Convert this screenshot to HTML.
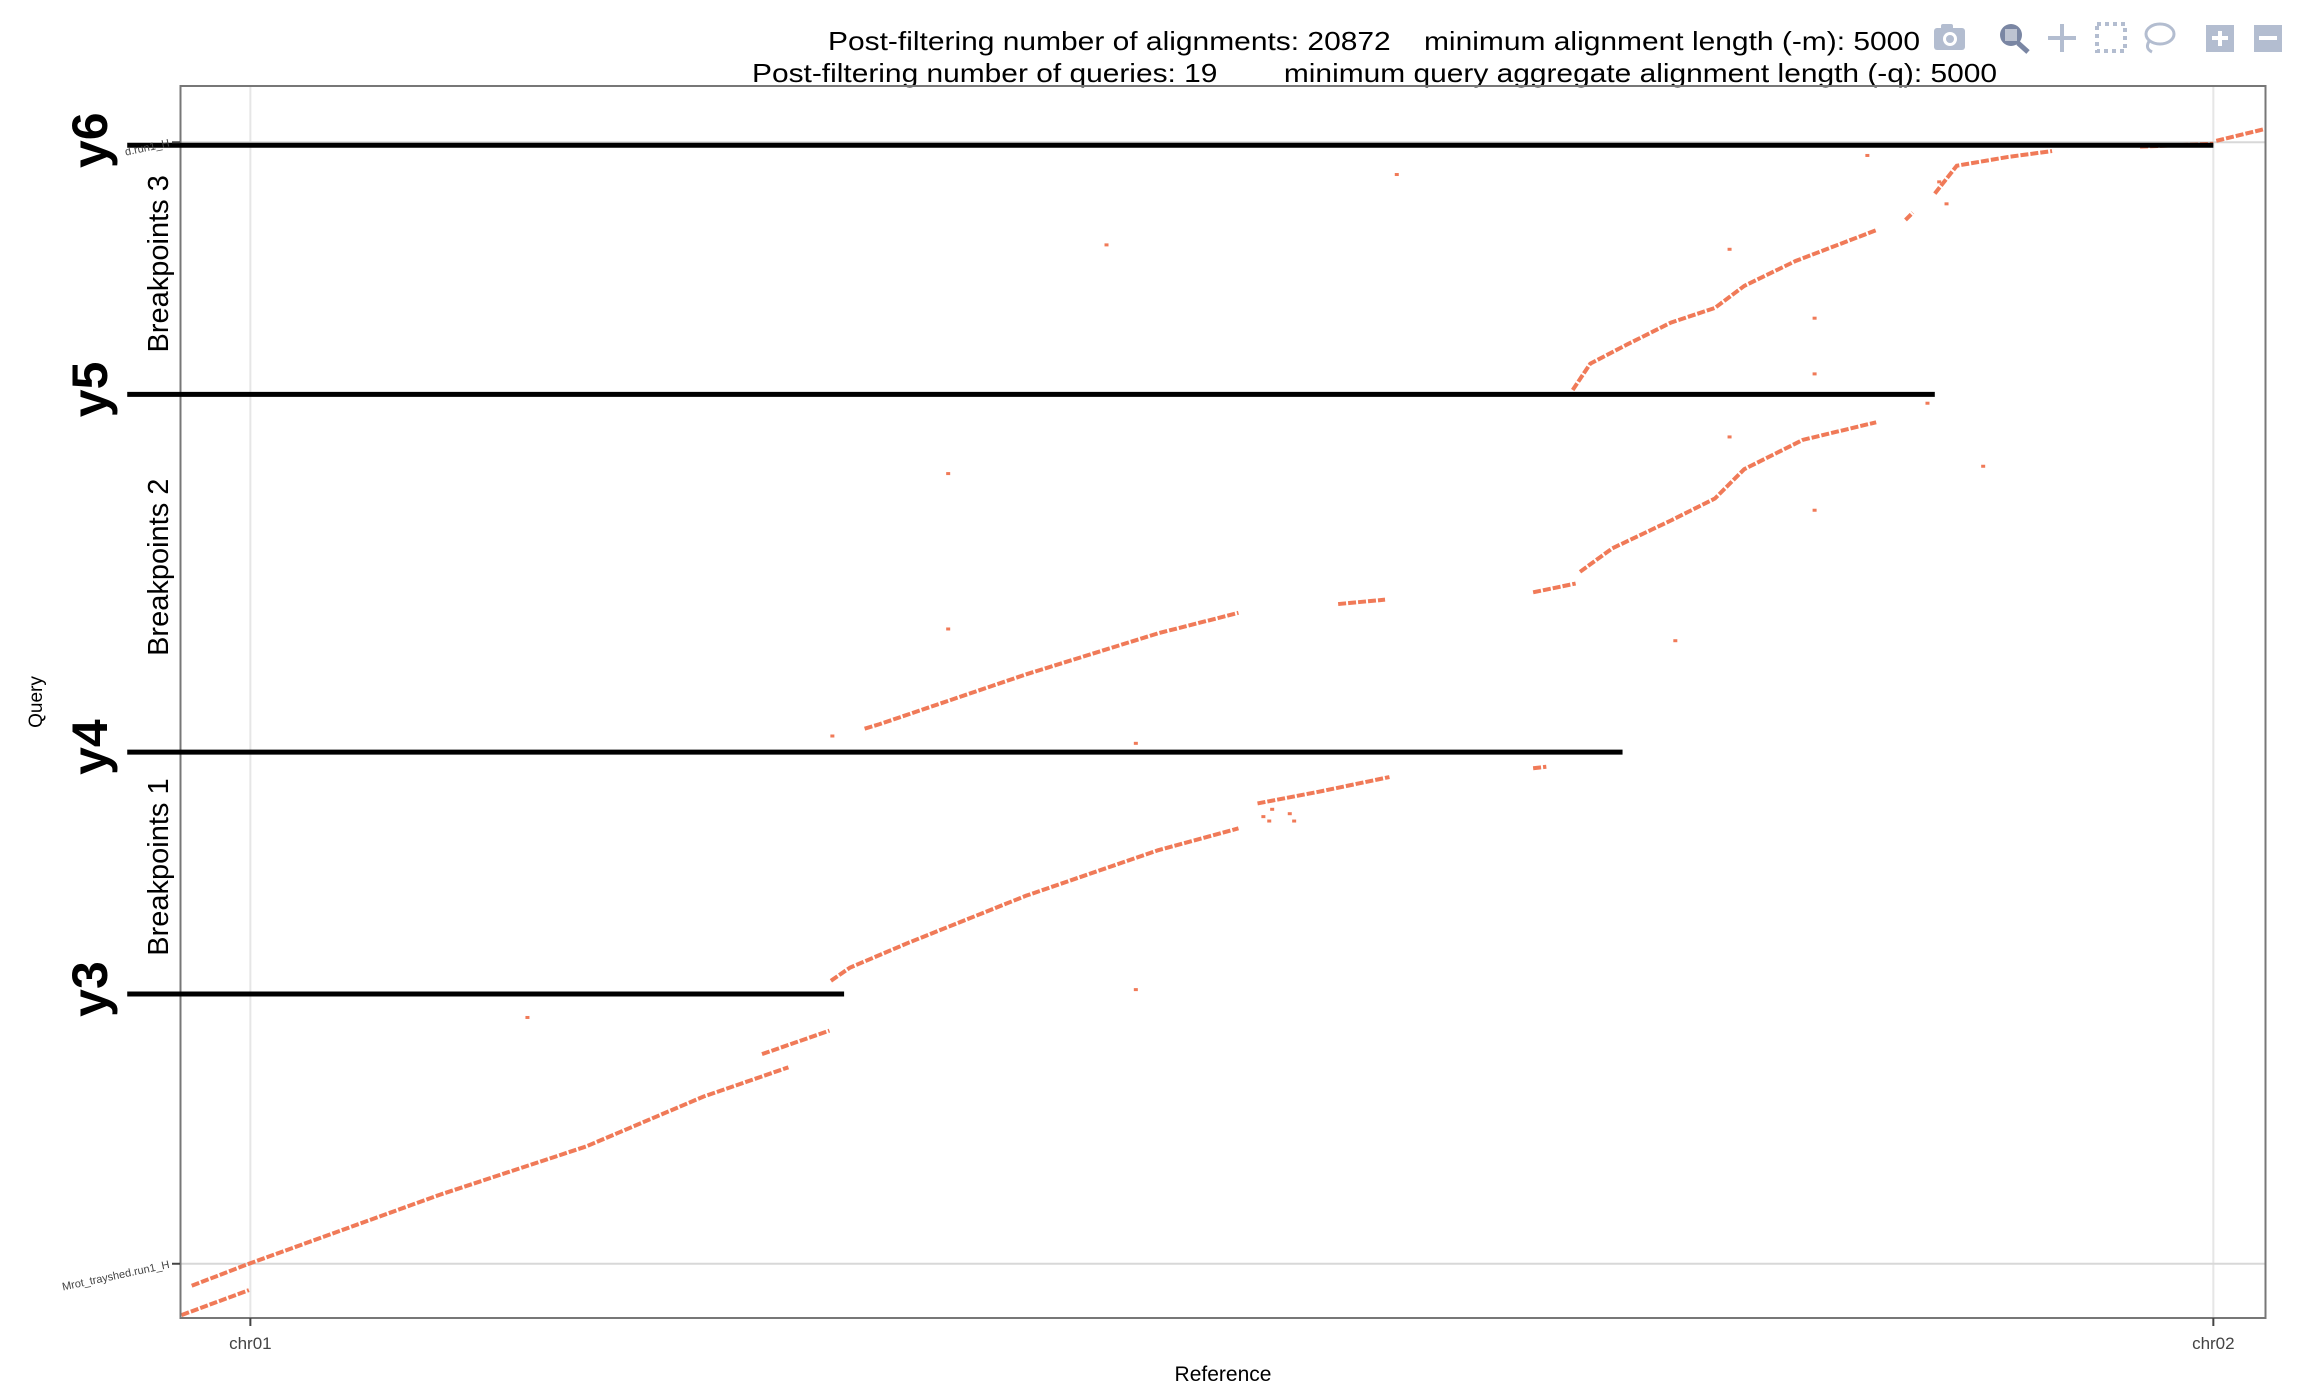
<!DOCTYPE html>
<html><head><meta charset="utf-8"><style>
html,body{margin:0;padding:0;background:#fff;}
svg{display:block;font-family:"Liberation Sans",sans-serif;}
</style></head><body>
<svg id="chart" width="2299" height="1392" viewBox="0 0 2299 1392" xmlns="http://www.w3.org/2000/svg">
<g font-size="26" fill="#000">
<text x="828" y="50" textLength="1092" lengthAdjust="spacingAndGlyphs" xml:space="preserve">Post-filtering number of alignments: 20872    minimum alignment length (-m): 5000</text>
<text x="752" y="82" textLength="1245" lengthAdjust="spacingAndGlyphs" xml:space="preserve">Post-filtering number of queries: 19        minimum query aggregate alignment length (-q): 5000</text>
</g>
<g>
<g fill="#b3bdd0"><rect x="1934" y="28" width="31" height="22" rx="3"/><rect x="1941" y="24" width="12" height="6" rx="2"/><circle cx="1950" cy="39" r="7" fill="#fff"/><circle cx="1950" cy="39" r="4"/></g>
<g><circle cx="2011" cy="35" r="11" fill="#7a86a3"/><rect x="2005" y="29" width="12" height="12" fill="#fff" opacity=".5"/><line x1="2018" y1="43" x2="2028" y2="52" stroke="#7a86a3" stroke-width="5"/></g>
<g stroke="#b3bdd0" stroke-width="4" fill="none"><line x1="2062" y1="24" x2="2062" y2="52"/><line x1="2048" y1="38" x2="2076" y2="38"/></g>
<rect x="2097" y="24" width="28" height="27" fill="none" stroke="#b3bdd0" stroke-width="4" stroke-dasharray="4 4"/>
<g fill="none" stroke="#b3bdd0" stroke-width="3"><ellipse cx="2160" cy="34" rx="14" ry="10"/><path d="M2150 40 q-6 8 2 12"/></g>
<g><rect x="2206" y="25" width="28" height="27" fill="#b3bdd0"/><path d="M2220 31v15M2212 38h16" stroke="#fff" stroke-width="4"/></g>
<g><rect x="2254" y="25" width="28" height="27" fill="#b3bdd0"/><path d="M2259 38h18" stroke="#fff" stroke-width="4"/></g>
</g>
<g id="grid"></g>
<g id="marks"></g>
<rect x="180.5" y="86" width="2085" height="1232" fill="none" stroke="#777" stroke-width="2"/>
<g id="bps"></g>
<g id="axes" font-size="17" fill="#444"></g>
<text transform="translate(42,702) rotate(-90)" text-anchor="middle" font-size="19">Query</text>
<text x="1223" y="1381" text-anchor="middle" font-size="21">Reference</text>
</svg>
<script>
const segX=[
[0.1,4.7],
[0.8,4.7,17.7,27.7,35.7,41.5],
[39.7,44.3],
[44.4,45.7,49.7,57.7,66.7,72.2],
[73.5,77.7,82.5],
[92.3,93.2],
[46.7,47.7,57.7,66.7,72.2],
[79.0,82.2],
[92.3,95.2],
[95.5,97.7,101.7,104.7,106.7,110.7,115.7],
[95.0,96.2,98.7,101.7,104.7,106.7,110.2,115.7],
[117.7,118.2],
[119.7,121.2,124.7,127.7],
[133.7,138.7],
[138.9,142.2]
];
const segY=[
[0.2,1.9],
[2.2,3.7,8.4,11.7,15.1,17.1],
[18.0,19.6],
[23.0,23.9,25.6,28.8,31.9,33.4],
[35.1,35.9,36.9],
[37.5,37.6],
[40.2,40.5,43.9,46.7,48.1],
[48.7,49.0],
[49.5,50.1],
[50.9,52.5,54.4,55.9,57.9,59.9,61.1],
[63.3,65.1,66.4,67.9,68.9,70.4,72.1,74.2],
[74.9,75.4],
[76.7,78.6,79.2,79.6],
[79.9,80.1],
[80.3,81.1]
];
const dotX=[83.0,63.2,52.4,52.4,65.2,65.2,23.7,102.0,111.5,123.0,111.5,111.5,105.7,105.7,115.1,119.2,73.9,74.5,75.7,74.3,76.0,44.5,120.0,120.5];
const dotY=[78.0,73.2,57.6,47.0,39.2,22.4,20.5,46.2,55.1,58.1,64.4,68.2,72.9,60.1,79.3,62.4,34.2,34.7,34.4,33.9,33.9,39.7,77.5,76.0];
const bpNames=["y3","y4","y5","y6"];
const bpY=[22.1,38.6,63.0,80.0];
const bpXEnd=[45.3,98.4,119.7,138.7];
const bpStart=-3.6;
const breakLabels=["Breakpoints 1","Breakpoints 2","Breakpoints 3"];
const xTickLabels=["chr01","chr02"];
const xTickVals=[4.8,138.7];
const yTickLabels=["Mrot_trayshed.run1_H","d.run1_H"];
const yTickVals=[3.7,80.2];

const X0=180, KX=14.66, Y0=1318, KY=14.66;
function sx(v){return X0+v*KX;}
function sy(v){return Y0-v*KY;}
const NS="http://www.w3.org/2000/svg";
function mk(tag,attrs,parent){const e=document.createElementNS(NS,tag);for(const k in attrs)e.setAttribute(k,attrs[k]);parent.appendChild(e);return e;}
const grid=document.getElementById('grid'),marks=document.getElementById('marks'),bps=document.getElementById('bps'),axes=document.getElementById('axes');
xTickVals.forEach((v,i)=>{
 const g=mk('line',{x1:sx(v),x2:sx(v),y1:86,y2:1318,stroke:'#e6e6e6','stroke-width':2},grid);
 
 
 const t=mk('line',{x1:sx(v),x2:sx(v),y1:1318,y2:1326,stroke:'#444','stroke-width':2},axes);
 
 
 const l=mk('text',{x:sx(v),y:1349,'text-anchor':'middle'},axes);l.textContent=xTickLabels[i];
 
 
});
yTickVals.forEach((v,i)=>{
 const g=mk('line',{x1:180,x2:2266,y1:sy(v),y2:sy(v),stroke:'#d8d8d8','stroke-width':2},grid);
 
 
 const t=mk('line',{x1:172,x2:180,y1:sy(v),y2:sy(v),stroke:'#444','stroke-width':2},axes);
 
 
 const l=mk('text',{transform:`translate(170,${sy(v)+4}) rotate(-12)`,'text-anchor':'end','font-size':11},axes);l.textContent=yTickLabels[i];
 
 
});
segX.forEach((xs,i)=>{
 const pts=xs.map((x,j)=>sx(x)+','+sy(segY[i][j])).join(' ');
 const p=mk('polyline',{points:pts,fill:'none',stroke:'#f07a58','stroke-width':4,'stroke-dasharray':'8 2'},marks);
 
 
});
dotX.forEach((x,i)=>{
 const d=mk('rect',{x:sx(x)-2,y:sy(dotY[i])-1.5,width:4,height:3,fill:'#f07a58'},marks);
 
 
});
bpY.forEach((y,i)=>{
 const l=mk('line',{x1:sx(bpStart),x2:sx(bpXEnd[i]),y1:sy(y),y2:sy(y),stroke:'#000','stroke-width':5},bps);
 
 
 const t=mk('text',{transform:`translate(107,${sy(y)-5}) rotate(-90)`,'text-anchor':'middle','font-size':50,'font-weight':'bold'},bps);t.textContent=bpNames[i];
 
 
});
breakLabels.forEach((s,i)=>{
 const cy=(sy(bpY[i])+sy(bpY[i+1]))/2-6;
 const t=mk('text',{transform:`translate(168,${cy}) rotate(-90)`,'text-anchor':'middle','font-size':29},bps);t.textContent=s;
 
 
});
</script>
</body></html>
